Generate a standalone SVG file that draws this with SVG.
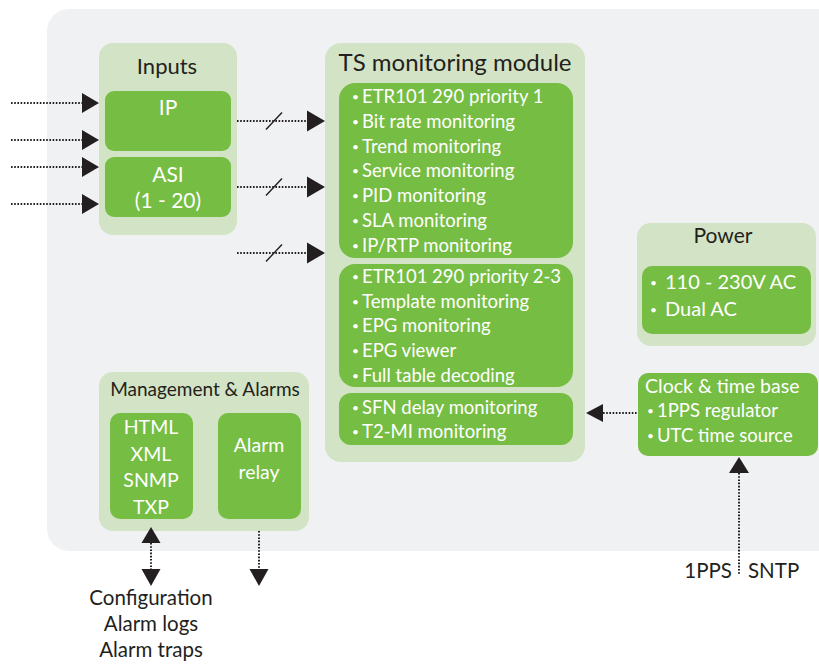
<svg xmlns="http://www.w3.org/2000/svg" width="819" height="664" viewBox="0 0 819 664">
<defs>
<style>
text{font-family:Lato,"Noto Sans","Liberation Sans",sans-serif}
.outer{fill:#d3e3c5}
.inner{fill:#76bd43}
.t{fill:#231f20}
.w{fill:#ffffff}
.b{font-size:12px}
.dot{stroke:#231f20;stroke-width:2;stroke-dasharray:1.6 1.6;fill:none}
.head{fill:#231f20}
.sl{stroke:#231f20;stroke-width:1.4}
</style>
</defs>
<rect x="47" y="9" width="800" height="542" rx="22" fill="#f0f1f3"/>

<g id="inputs">
<rect class="outer" x="99" y="43" width="138" height="192" rx="14"/>
<text class="t" x="167" y="74" font-size="22" text-anchor="middle">Inputs</text>
<rect class="inner" x="105" y="91" width="126" height="60" rx="9"/>
<text class="w" x="168" y="115" font-size="21" text-anchor="middle">IP</text>
<rect class="inner" x="105" y="157" width="126" height="60" rx="9"/>
<text class="w" x="168" y="182" font-size="21" text-anchor="middle">ASI</text>
<text class="w" x="168" y="208" font-size="21" text-anchor="middle">(1 - 20)</text>
</g>

<g id="ts-module">
<rect class="outer" x="325" y="43" width="260" height="419" rx="16"/>
<text class="t" x="455" y="71" font-size="24" text-anchor="middle">TS monitoring module</text>
<rect class="inner" x="339" y="83" width="234" height="175" rx="16"/>
<rect class="inner" x="339" y="264" width="234" height="123" rx="16"/>
<rect class="inner" x="339" y="393" width="234" height="52" rx="12"/>
<g class="w" font-size="18.5">
<text y="103"><tspan class="b" x="352" dy="-2">•</tspan><tspan x="362" dy="2">ETR101 290 priority 1</tspan></text>
<text y="128"><tspan class="b" x="352" dy="-2">•</tspan><tspan x="362" dy="2">Bit rate monitoring</tspan></text>
<text y="153"><tspan class="b" x="352" dy="-2">•</tspan><tspan x="362" dy="2">Trend monitoring</tspan></text>
<text y="177"><tspan class="b" x="352" dy="-2">•</tspan><tspan x="362" dy="2">Service monitoring</tspan></text>
<text y="202"><tspan class="b" x="352" dy="-2">•</tspan><tspan x="362" dy="2">PID monitoring</tspan></text>
<text y="227"><tspan class="b" x="352" dy="-2">•</tspan><tspan x="362" dy="2">SLA monitoring</tspan></text>
<text y="252"><tspan class="b" x="352" dy="-2">•</tspan><tspan x="362" dy="2">IP/RTP monitoring</tspan></text>
<text y="283"><tspan class="b" x="352" dy="-2">•</tspan><tspan x="362" dy="2">ETR101 290 priority 2-3</tspan></text>
<text y="308"><tspan class="b" x="352" dy="-2">•</tspan><tspan x="362" dy="2">Template monitoring</tspan></text>
<text y="332"><tspan class="b" x="352" dy="-2">•</tspan><tspan x="362" dy="2">EPG monitoring</tspan></text>
<text y="357"><tspan class="b" x="352" dy="-2">•</tspan><tspan x="362" dy="2">EPG viewer</tspan></text>
<text y="382"><tspan class="b" x="352" dy="-2">•</tspan><tspan x="362" dy="2">Full table decoding</tspan></text>
<text y="414"><tspan class="b" x="352" dy="-2">•</tspan><tspan x="362" dy="2">SFN delay monitoring</tspan></text>
<text y="438"><tspan class="b" x="352" dy="-2">•</tspan><tspan x="362" dy="2">T2-MI monitoring</tspan></text>
</g>
</g>

<g id="power">
<rect class="outer" x="637" y="223" width="179" height="123" rx="14"/>
<text class="t" x="723" y="243" font-size="21" text-anchor="middle">Power</text>
<rect class="inner" x="642" y="266" width="169" height="68" rx="10"/>
<text class="w" y="289" font-size="20"><tspan class="b" x="650" dy="-2">•</tspan><tspan x="665" dy="2">110 - 230V AC</tspan></text>
<text class="w" y="316" font-size="20"><tspan class="b" x="650" dy="-2">•</tspan><tspan x="665" dy="2">Dual AC</tspan></text>
</g>

<g id="clock">
<rect class="inner" x="638" y="373" width="180" height="83" rx="10"/>
<text class="w" x="645" y="393" font-size="19.5">Clock &amp; time base</text>
<text class="w" y="417" font-size="18.5"><tspan class="b" x="647" dy="-2">•</tspan><tspan x="657" dy="2">1PPS regulator</tspan></text>
<text class="w" y="442" font-size="18.5"><tspan class="b" x="647" dy="-2">•</tspan><tspan x="657" dy="2">UTC time source</tspan></text>
</g>

<g id="management">
<rect class="outer" x="99" y="372" width="210" height="159" rx="14"/>
<text class="t" x="205" y="396" font-size="19" text-anchor="middle">Management &amp; Alarms</text>
<rect class="inner" x="110" y="413" width="83" height="106" rx="10"/>
<g class="w" font-size="19.5" text-anchor="middle">
<text x="151" y="434">HTML</text>
<text x="151" y="461">XML</text>
<text x="151" y="487">SNMP</text>
<text x="151" y="514">TXP</text>
</g>
<rect class="inner" x="218" y="413" width="83" height="106" rx="10"/>
<text class="w" x="259" y="452" font-size="19.5" text-anchor="middle">Alarm</text>
<text class="w" x="259" y="479" font-size="19.5" text-anchor="middle">relay</text>
</g>

<g id="labels" class="t" font-size="20.5">
<text x="151" y="605" text-anchor="middle">Configuration</text>
<text x="151" y="631" text-anchor="middle">Alarm logs</text>
<text x="151" y="657" text-anchor="middle">Alarm traps</text>
<text x="732" y="578" text-anchor="end">1PPS</text>
<text x="748" y="578">SNTP</text>
</g>

<g id="connectors">
<path class="dot" d="M11 103H83M11 140H83M11 167H83M11 204H83"/>
<path class="head" d="M82 93L99 103L82 113ZM82 130L99 140L82 150ZM82 157L99 167L82 177ZM82 194L99 204L82 214Z"/>
<path class="dot" d="M237 121H307M237 187H307M237 253H307"/>
<path class="head" d="M307 110.5L325 121L307 131.5ZM307 176.5L325 187L307 197.5ZM307 242.5L325 253L307 263.5Z"/>
<path class="sl" d="M266 129.5L282 112.5M266 195.5L282 178.5M266 261.5L282 244.5"/>
<path class="dot" d="M603 413H637"/>
<path class="head" d="M586 413L603 404L603 422Z"/>
<path class="dot" d="M739 473V574"/>
<path class="head" d="M739 457L749 473L729 473Z"/>
<path class="dot" d="M151 543V569M259 531V569"/>
<path class="head" d="M151 527L160.5 543L141.5 543ZM141.5 569L160.5 569L151 586ZM249.5 569L268.5 569L259 586Z"/>
</g>
</svg>
